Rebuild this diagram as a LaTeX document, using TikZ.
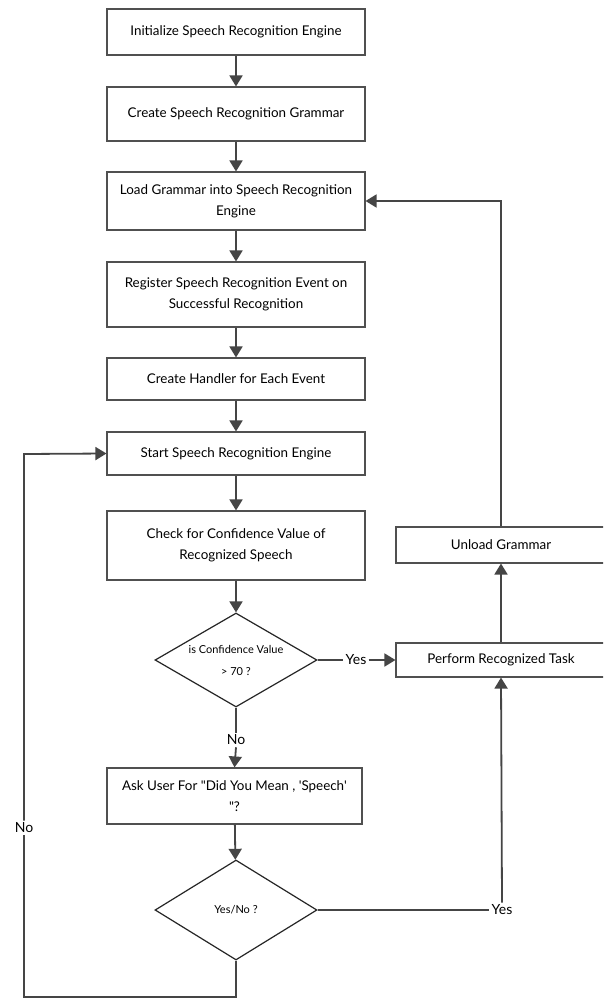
\documentclass[tikz,border=0pt]{standalone}
\usepackage{fontspec}
\setmainfont{Lato}
\usetikzlibrary{arrows.meta,shapes.geometric}
\definecolor{boxline}{HTML}{505050}
\definecolor{conn}{HTML}{454545}
\begin{document}
\begin{tikzpicture}[x=1pt,y=-1pt,
  stepbox/.style={draw=boxline,line width=1.1pt,fill=white,rectangle,inner sep=0pt,
    minimum width=258pt,align=center,font=\fontsize{13.4}{21}\selectfont},
  sidebox/.style={draw=boxline,line width=1.1pt,fill=white,rectangle,inner sep=0pt,
    minimum width=210pt,align=center,font=\fontsize{13.4}{21}\selectfont},
  decide/.style={draw=black!85,line width=1.2pt,fill=white,diamond,inner sep=0pt,
    minimum width=162pt},
  dtext/.style={align=center,inner sep=0pt,font=\fontsize{11}{22}\selectfont},
  lbl/.style={inner sep=2pt,font=\fontsize{14}{16}\selectfont},
  conn/.style={draw=conn,line width=1.8pt},
  arr/.style={conn,-{Triangle[length=11pt,width=13pt]}}]
\clip (0,0) rectangle (603,998);
\fill[white] (0,0) rectangle (603,998);

\node[stepbox,minimum height=46pt] (b1) at (236,32) {Initialize Speech Recognition Engine};
\node[stepbox,minimum height=54pt] (b2) at (236,114) {Create Speech Recognition Grammar};
\node[stepbox,minimum height=58pt] (b3) at (236,201) {Load Grammar into Speech Recognition\\Engine};
\node[stepbox,minimum height=65pt] (b4) at (236,294.5) {Register Speech Recognition Event on\\Successful Recognition};
\node[stepbox,minimum height=42pt] (b5) at (236,379) {Create Handler for Each Event};
\node[stepbox,minimum height=43pt] (b6) at (236,453.5) {Start Speech Recognition Engine};
\node[stepbox,minimum height=69pt] (b7) at (236,545.5) {Check for Confidence Value of\\Recognized Speech};
\node[decide,minimum height=94pt,label={[dtext]center:is Confidence Value\\> 70 ?}] (d1) at (236,660) {};
\node[stepbox,minimum width=255pt,minimum height=56pt] (ask) at (234.5,796) {Ask User For \textquotedbl Did You Mean , \textquotesingle Speech\textquotesingle\\\textquotedbl ?};
\node[decide,minimum height=100pt,label={[dtext]center:Yes/No ?}] (d2) at (236,910) {};
\node[sidebox,minimum height=36pt] (unload) at (501,545) {Unload Grammar};
\node[sidebox,minimum height=34pt] (perform) at (501,660) {Perform Recognized Task};

\node[lbl] (no1) at (236,740) {No};
\node[lbl] (yes1) at (356,660) {Yes};
\node[lbl] (no2) at (24,828) {No};
\node[lbl] (yes2) at (502,910) {Yes};
\coordinate (c1) at (236,997);
\coordinate (c2) at (24,997);
\coordinate (c3) at (24,454);

\draw[arr] (b1) -- (b2);
\draw[arr] (b2) -- (b3);
\draw[arr] (b3) -- (b4);
\draw[arr] (b4) -- (b5);
\draw[arr] (b5) -- (b6);
\draw[arr] (b6) -- (b7);
\draw[arr] (b7) -- (d1);
\draw[conn] (d1.south) -- (no1.north);
\draw[arr] (no1.south) -- (ask.north);
\draw[arr] (ask) -- (d2);
\draw[conn] (d1.east) -- (yes1.west);
\draw[arr] (yes1.east) -- (perform.west);
\draw[arr] (perform) -- (unload);
\draw[arr] (unload.north) |- (b3.east);
\draw[conn] (d2.east) -- (yes2.west);
\draw[arr] (yes2.north) -- (perform.south);
\draw[conn] (d2.south) -- (c1) -- (c2) -- (no2.south);
\draw[arr] (no2.north) -- (c3) -- (b6.west);
\end{tikzpicture}
\end{document}
